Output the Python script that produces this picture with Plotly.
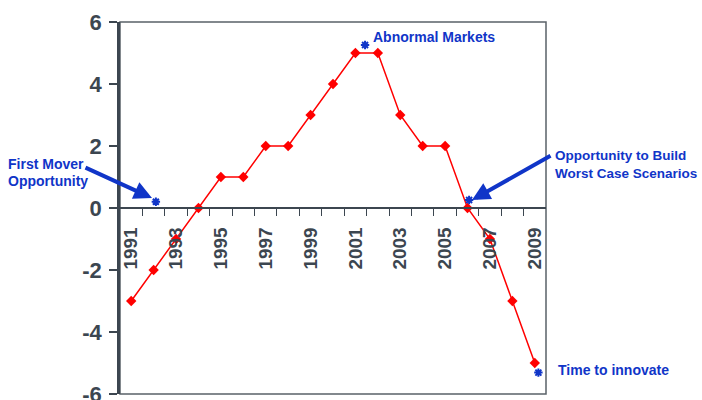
import plotly.graph_objects as go

years = list(range(1991, 2010))
values = [-3, -2, -1, 0, 1, 1, 2, 2, 3, 4, 5, 5, 3, 2, 2, 0, -1, -3, -5]

star_x = [1992.1, 2001.43, 2006.07, 2009.16]
star_y = [0.2, 5.26, 0.26, -5.31]

x_label_vals = list(range(1991, 2010, 2))
x_label_text = [str(v) for v in x_label_vals]
x_boundaries = [y + 0.5 for y in range(1991, 2009)]
y_tick_vals = [-6, -4, -2, 0, 2, 4, 6]
y_tick_text = ["-6", "-4", "-2", "0", "2", "4", "6"]

AXIS = "#3c4650"
BLUE = "#1035c8"
FONT = "Liberation Sans, Arial, sans-serif"

fig = go.Figure()
fig.add_trace(go.Scatter(
    x=years, y=values, mode="lines+markers",
    line=dict(color="#ff0000", width=1.5),
    marker=dict(symbol="diamond", size=8, color="#ff0000"),
    showlegend=False, hoverinfo="skip"))
fig.add_trace(go.Scatter(
    x=star_x, y=star_y, mode="markers",
    marker=dict(symbol="asterisk-open", size=7, color=BLUE, line=dict(color=BLUE, width=2)),
    showlegend=False, hoverinfo="skip"))

# frame
fig.add_shape(type="rect", xref="paper", yref="paper", x0=0, x1=1, y0=0, y1=1,
              line=dict(color="#5a6168", width=1.5), layer="below")

fig.update_layout(
    width=702, height=400,
    margin=dict(l=120, r=156, t=22, b=6),
    paper_bgcolor="white", plot_bgcolor="white",
    xaxis=dict(
        range=[1990.5, 2009.5], anchor="free", position=0.5, automargin=False,
        showgrid=False, zeroline=False,
        showline=True, linecolor=AXIS, linewidth=1.5,
        tickmode="array", tickvals=x_label_vals, ticktext=x_label_text,
        ticks="outside", ticklen=0, tickcolor=AXIS,
        tickangle=-90, ticklabelstandoff=11,
        tickfont=dict(family=FONT, size=19, color=AXIS, weight="bold"),
        minor=dict(tickmode="array", tickvals=x_boundaries, ticks="outside",
                   ticklen=7, tickcolor=AXIS, tickwidth=1.2, showgrid=False),
    ),
    yaxis=dict(
        range=[-6, 6], showgrid=False, zeroline=False, automargin=False,
        showline=True, linecolor=AXIS, linewidth=2.5,
        tickmode="array", tickvals=y_tick_vals, ticktext=y_tick_text,
        ticks="outside", ticklen=8, tickcolor=AXIS, tickwidth=1.5,
        ticklabelstandoff=3, ticklabeloverflow="allow",
        tickfont=dict(family=FONT, size=22, color=AXIS, weight="bold"),
    ),
)

def xp(px):
    return (px - 120) / 426.0

def yp(py):
    return (394 - py) / 372.0

def label(text, px, py, size=14):
    fig.add_annotation(x=xp(px), y=yp(py), xref="paper", yref="paper", text=text,
                       showarrow=False, xanchor="left", yanchor="middle",
                       font=dict(family=FONT, size=size, color=BLUE, weight="bold"))

label("Abnormal Markets", 371, 37)
label("First Mover", 6, 164)
label("Opportunity", 6, 181)
label("Opportunity to Build", 553, 155, 13.5)
label("Worst Case Scenarios", 553, 173, 13.5)
label("Time to innovate", 556, 370)

def arrow(tail, head):
    fig.add_annotation(x=xp(head[0]), y=yp(head[1]), xref="paper", yref="paper",
                       ax=tail[0] - head[0], ay=tail[1] - head[1], text="",
                       showarrow=True, arrowhead=2, arrowsize=0.9, arrowwidth=4,
                       arrowcolor=BLUE, standoff=0, startstandoff=0)

arrow((84, 167), (152, 198))
arrow((552, 155), (472, 200))

fig.write_html("out.html")
